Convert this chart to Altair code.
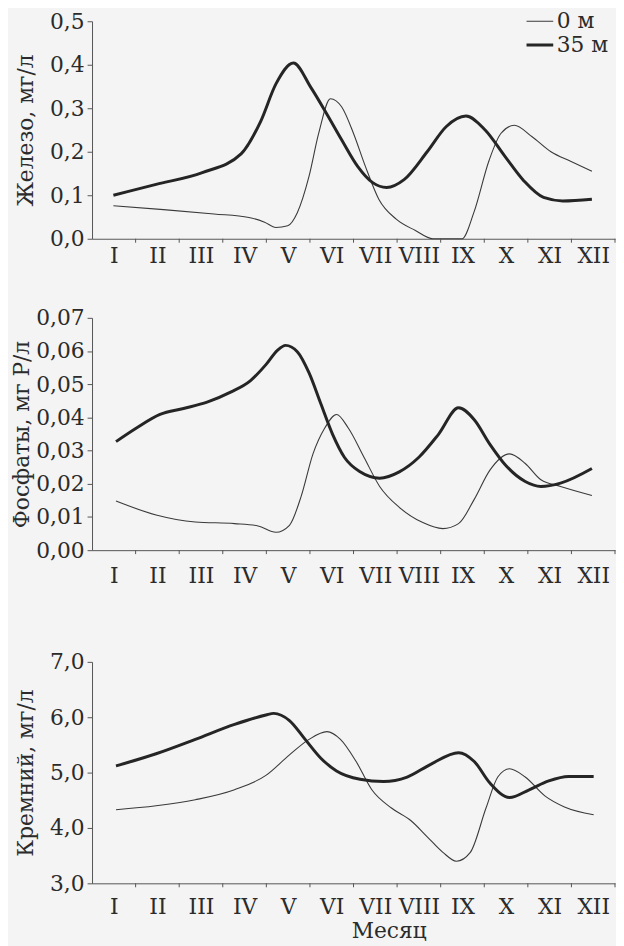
import json
import altair as alt
import pandas as pd

# ---------------- data ----------------
months = ["I", "II", "III", "IV", "V", "VI", "VII", "VIII", "IX", "X", "XI", "XII"]
depths = ["0 м", "35 м"]

# x positions are in month units (0 = start of January, 12 = end of December)
fe_0_x = [0.49, 1.64, 2.8, 3.6, 3.96, 4.22, 4.49, 4.71, 4.98, 5.2, 5.47, 5.73, 6.0, 6.27,
          6.58, 6.98, 7.42, 7.82, 8.15, 8.49, 8.76, 9.11, 9.38, 9.69, 10.09, 10.53, 10.98, 11.47]
fe_0_y = [0.076, 0.067, 0.057, 0.049, 0.038, 0.026, 0.030, 0.060, 0.144, 0.242, 0.322, 0.303,
          0.242, 0.167, 0.091, 0.045, 0.019, 0.0, 0.0, 0.0, 0.06, 0.18, 0.242, 0.261, 0.235,
          0.200, 0.178, 0.155]
fe_35_x = [0.49, 1.47, 2.53, 3.42, 3.87, 4.22, 4.62, 5.02, 5.38, 5.73, 6.09, 6.44, 6.76, 7.16,
           7.69, 8.13, 8.58, 9.02, 9.47, 9.91, 10.36, 10.8, 11.47]
fe_35_y = [0.100, 0.125, 0.152, 0.195, 0.27, 0.356, 0.404, 0.348, 0.288, 0.227, 0.167, 0.129,
           0.118, 0.136, 0.20, 0.258, 0.282, 0.25, 0.19, 0.133, 0.095, 0.087, 0.091]

p_0_x = [0.55, 1.47, 2.37, 3.27, 3.81, 4.22, 4.53, 4.8, 5.07, 5.34, 5.61, 5.88, 6.24, 6.6,
         7.05, 7.59, 8.05, 8.41, 8.77, 9.13, 9.58, 9.94, 10.3, 10.75, 11.47]
p_0_y = [0.0148, 0.0106, 0.0085, 0.0080, 0.0073, 0.0054, 0.0075, 0.0163, 0.0290, 0.0368,
         0.0409, 0.0368, 0.0280, 0.0192, 0.0129, 0.0083, 0.0065, 0.0080, 0.0153, 0.0241,
         0.0290, 0.0261, 0.0212, 0.0192, 0.0165]
p_35_x = [0.55, 1.02, 1.56, 2.1, 2.64, 3.18, 3.63, 3.99, 4.26, 4.44, 4.71, 4.98, 5.25, 5.52,
          5.79, 6.15, 6.6, 7.05, 7.5, 7.95, 8.41, 8.77, 9.13, 9.49, 9.94, 10.3, 10.75, 11.47]
p_35_y = [0.0327, 0.0368, 0.0409, 0.0427, 0.0446, 0.0476, 0.0510, 0.0559, 0.0603, 0.0617,
          0.0598, 0.0534, 0.0441, 0.0349, 0.0280, 0.0236, 0.0217, 0.0236, 0.0280, 0.0349,
          0.0429, 0.0393, 0.0319, 0.0256, 0.0207, 0.0192, 0.0202, 0.0246]

si_0_x = [0.55, 1.47, 2.37, 3.27, 3.99, 4.53, 4.98, 5.39, 5.7, 6.06, 6.42, 6.87, 7.32, 7.68,
          8.05, 8.36, 8.68, 9.04, 9.31, 9.58, 9.94, 10.39, 10.84, 11.51]
si_0_y = [4.33, 4.40, 4.51, 4.69, 4.95, 5.32, 5.60, 5.74, 5.60, 5.20, 4.69, 4.36, 4.13, 3.85,
          3.56, 3.40, 3.56, 4.36, 4.92, 5.07, 4.92, 4.58, 4.38, 4.24]
si_35_x = [0.55, 1.47, 2.37, 3.27, 3.99, 4.17, 4.53, 4.89, 5.25, 5.61, 6.15, 6.69, 7.23, 7.77,
           8.41, 8.77, 9.13, 9.58, 10.03, 10.48, 10.93, 11.51]
si_35_y = [5.12, 5.34, 5.60, 5.87, 6.04, 6.07, 5.94, 5.60, 5.26, 5.03, 4.88, 4.84, 4.92, 5.15,
           5.36, 5.20, 4.81, 4.55, 4.69, 4.85, 4.93, 4.93]

month_bounds = list(range(1, 13))

# ---------------- styling ----------------
FONT = "DejaVu Serif"
INK = "#2b2b2b"
AXIS = "#555555"
BG = "#f4f4f4"
W = 529
month_label_expr = json.dumps(months) + "[floor(datum.value)]"


def make_panel(x0, y0, x35, y35, ytitle, ydomain, yvalues, yfmt, plot_h, top_pad,
               xlab_pad, ytitle_pad, legend=False, xtitle=None):
    df = pd.concat([
        pd.DataFrame({"u": x0, "v": y0, "depth": depths[0]}),
        pd.DataFrame({"u": x35, "v": y35, "depth": depths[1]}),
    ])
    total_h = plot_h + top_pad
    xscale = alt.Scale(domain=[0, 12], nice=False, zero=False)
    yscale = alt.Scale(domain=ydomain, nice=False, zero=False, range=[total_h, top_pad])

    if legend:
        leg = alt.Legend(title=None, orient="none", legendX=438, legendY=-12,
                         symbolType="stroke", symbolSize=729, labelFont=FONT,
                         labelFontSize=22, labelColor=INK, rowPadding=0, labelOffset=2,
                         clipHeight=24, labelLimit=200, symbolStrokeColor=INK)
    else:
        leg = None

    xaxis_kwargs = dict(values=[i + 0.5 for i in range(12)], labelExpr=month_label_expr,
                        ticks=False, labelPadding=xlab_pad, labelFlush=False,
                        labelOverlap=False, title=xtitle)
    if xtitle:
        xaxis_kwargs.update(titlePadding=3, titleX=300)
    xaxis = alt.Axis(**xaxis_kwargs)

    lines = alt.Chart(df).mark_line(interpolate="monotone").encode(
        x=alt.X("u:Q", scale=xscale, axis=xaxis),
        y=alt.Y("v:Q", scale=yscale,
                axis=alt.Axis(values=yvalues,
                              labelExpr=f"replace(format(datum.value, '{yfmt}'), '.', ',')",
                              title=ytitle, titleY=top_pad + plot_h / 2,
                              titlePadding=ytitle_pad, tickSize=5, labelPadding=3)),
        color=alt.Color("depth:N", scale=alt.Scale(domain=depths, range=["#3a3a3a", "#252525"]),
                        legend=leg),
        strokeWidth=alt.StrokeWidth("depth:N", scale=alt.Scale(domain=depths, range=[1.1, 3.0]),
                                    legend=leg),
        detail="depth:N",
    )

    ticks = alt.Chart(pd.DataFrame({"u": month_bounds})).mark_rule(
        color=AXIS, strokeWidth=1
    ).encode(
        x=alt.X("u:Q", scale=xscale, axis=xaxis),
        y=alt.value(total_h),
        y2=alt.value(total_h + 4),
    )
    return alt.layer(lines, ticks).properties(width=W, height=total_h)


p1 = make_panel(fe_0_x, fe_0_y, fe_35_x, fe_35_y, "Железо, мг/л", [0, 0.5],
                [0, 0.1, 0.2, 0.3, 0.4, 0.5], ".1f", 220, 0, 7, 12, legend=True)
p2 = make_panel(p_0_x, p_0_y, p_35_x, p_35_y, "Фосфаты, мг P/л", [0, 0.07],
                [0, 0.01, 0.02, 0.03, 0.04, 0.05, 0.06, 0.07], ".2f", 235, 52, 16, 2)
p3 = make_panel(si_0_x, si_0_y, si_35_x, si_35_y, "Кремний, мг/л", [3, 7],
                [3, 4, 5, 6, 7], ".1f", 224, 76, 14, 12, xtitle="Месяц")

chart = alt.vconcat(p1, p2, p3, spacing=0).properties(
    padding={"left": 3, "top": -4, "right": 0, "bottom": 0},
    background=BG,
).configure_axis(
    labelFont=FONT, titleFont=FONT, labelFontSize=22, titleFontSize=22,
    labelColor=INK, titleColor=INK, titleFontWeight="normal",
    domainColor=AXIS, tickColor=AXIS, grid=False,
).configure_view(stroke=None)

chart.save("out.html", embed_options={"renderer": "svg", "actions": False})
